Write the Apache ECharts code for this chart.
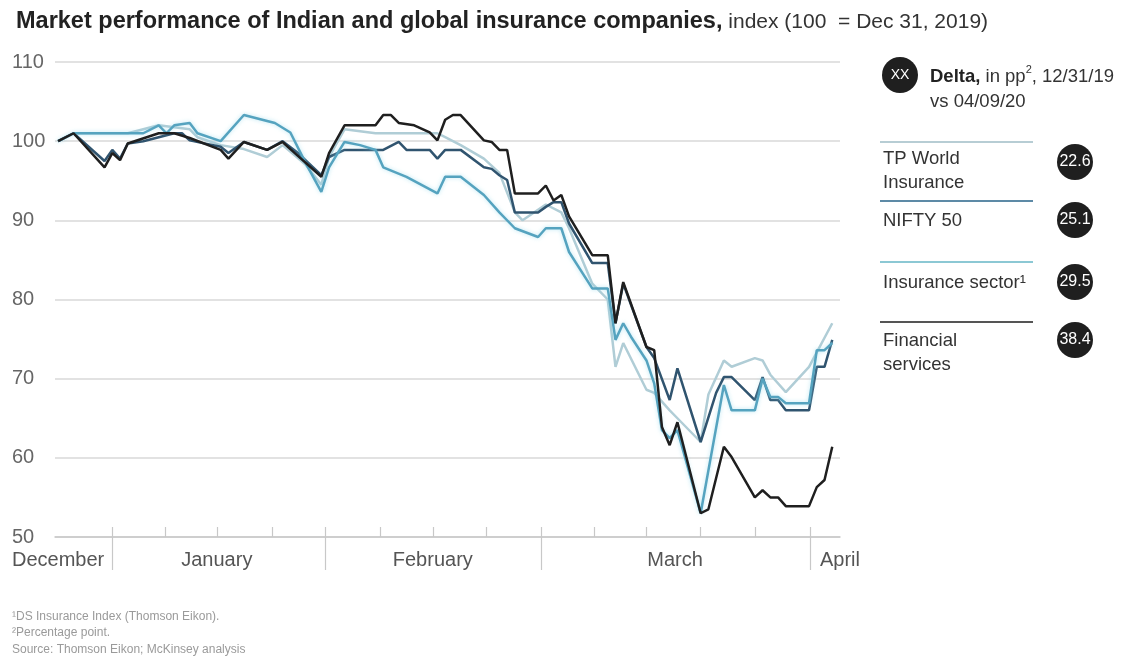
<!DOCTYPE html>
<html>
<head>
<meta charset="utf-8">
<script src="https://cdn.jsdelivr.net/npm/echarts@6/dist/echarts.min.js"></script>
<style>
html,body{margin:0;padding:0;background:#fff;}
#chart{width:1129px;height:661px;}
</style>
</head>
<body>
<div id="chart"></div>
<script>
// x = trading-day index (0 = start of series, late December 2019)
const monthNames = ['December', 'January', 'February', 'March', 'April'];
const monthLabelDays = [0, 20.5, 48.4, 79.7, 101];
const monthBoundaryDays = [7, 34.5, 62.4, 97.2];
const weekTickDays = [7, 13.8, 20.5, 27.6, 34.5, 41.6, 48.4, 55.3, 62.4, 69.2, 76, 82.9, 90.1, 97.2];
const yTicks = [50, 60, 70, 80, 90, 100, 110];

const seriesNames = ['TP World Insurance', 'NIFTY 50', 'Insurance sector', 'Financial services'];
const legendLabels = ['TP World\nInsurance', 'NIFTY 50', 'Insurance sector¹', 'Financial\nservices'];
const deltas = ['22.6', '25.1', '29.5', '38.4'];

const tpWorld = [[0,100],[2,101],[9,101],[13,102],[17,101.5],[18,100.5],[21,99.5],[24,99],[27,98],[29,99.5],[32,97],[34,94.5],[35,98],[37,101.5],[41,101],[49,101],[50,100.5],[52,99.5],[55,97.8],[57,96],[59,91],[60,90],[63,92],[65,91],[66,89],[69,82],[71,80],[72,71.5],[73,74.5],[76,68.6],[77,68.2],[79,66],[80,65],[83,62],[84,68],[86,72.3],[87,71.5],[90,72.6],[91,72.3],[92,70.5],[94,68.3],[97,71.5],[100,77]];

const nifty50 = [[0,100],[2,101],[6,97.5],[7,98.9],[8,97.8],[9,99.7],[11,100],[13,100.5],[15,101],[16,101],[17,100.1],[21,99.3],[22,98.5],[24,99.9],[27,98.9],[29,100],[31,98.5],[34,95.7],[35,98],[37,98.9],[42,98.9],[44,99.9],[45,98.9],[48,98.9],[49,97.8],[50,98.9],[52,98.9],[55,96.7],[56,96.5],[57,95.7],[58,95.1],[59,91],[62,91],[63,91.7],[64,92.3],[65,92.3],[66,89.6],[69,84.6],[71,84.6],[72,77],[73,82],[76,74],[77,72.6],[79,67.3],[80,71.3],[83,62],[85,68.2],[86,70.2],[87,70.2],[90,67.3],[91,70.2],[92,67.3],[93,67.3],[94,66],[97,66],[98,71.5],[99,71.5],[100,74.9]];

const insurance = [[0,100],[2,101],[11,101],[13,102],[14,101],[15,102],[17,102.3],[18,101],[21,100],[24,103.3],[28,102.3],[30,101.1],[32,97.2],[34,93.6],[35,96.7],[37,99.9],[39,99.5],[41,98.9],[42,96.7],[45,95.5],[49,93.4],[50,95.5],[52,95.5],[55,93.2],[57,91],[59,89],[62,87.9],[63,89],[65,89],[66,86],[69,81.4],[71,81.4],[72,74.9],[73,77],[74,75.3],[76,72.3],[77,69.4],[78,63.5],[79,62.5],[80,63.5],[83,53],[86,69.2],[87,66],[90,66],[91,70],[92,67.7],[93,67.7],[94,66.9],[97,66.9],[98,73.6],[99,73.6],[100,74.5]];

const financial = [[0,100],[2,101],[6,96.7],[7,98.5],[8,97.6],[9,99.7],[13,101],[15,101],[17,100.4],[21,98.9],[22,97.8],[24,99.9],[27,98.9],[29,99.9],[30,99],[34,95.5],[35,98.5],[37,102],[41,102],[42,103.3],[43,103.3],[44,102.3],[46,102],[48,101.1],[49,100.1],[50,102.7],[51,103.3],[52,103.3],[55,100.1],[56,99.9],[57,98.9],[58,98.9],[59,93.4],[62,93.4],[63,94.4],[64,92.5],[65,93.2],[66,90.5],[69,85.6],[71,85.6],[72,77],[73,82.2],[76,74],[77,73.6],[78,63.9],[79,61.6],[80,64.5],[83,53],[84,53.5],[86,61.4],[87,60.1],[90,55],[91,55.9],[92,55],[93,55],[94,53.9],[97,53.9],[98,56.3],[99,57.2],[100,61.4]];

const seriesData = [tpWorld, nifty50, insurance, financial];
const colors = ['#b0cdd6', '#30546f', '#55a3bf', '#1f1f1f'];
const legendLineColors = ['#b7cdd4', '#5d8aa6', '#8cc8d4', '#555555'];

const FONT = '"Liberation Sans", Arial, sans-serif';
const chart = echarts.init(document.getElementById('chart'));

const graphics = [];
// Delta header
graphics.push({type:'circle', shape:{cx:900, cy:75, r:18}, style:{fill:'#1f1f1f'}});
graphics.push({type:'text', x:900, y:75, style:{text:'XX', fill:'#fff', font:'14px ' + FONT, align:'center', verticalAlign:'middle'}});
graphics.push({type:'text', x:930, y:64, style:{
  text:'{b|Delta,} in pp{s|2}, 12/31/19\nvs 04/09/20', fill:'#333', font:'18.5px ' + FONT, lineHeight:25, verticalAlign:'top',
  rich:{b:{font:'bold 18.5px ' + FONT, fill:'#222'}, s:{font:'11px ' + FONT, verticalAlign:'top', padding:[0,0,9,0]}}
}});
const legendLineY = [142, 201, 262, 322];
const legendTextY = [147, 209, 271, 329];
const badgeY = [162, 220, 282, 340];
for (let k = 0; k < 4; k++) {
  graphics.push({type:'line', shape:{x1:880, y1:legendLineY[k], x2:1033, y2:legendLineY[k]}, style:{stroke:legendLineColors[k], lineWidth:2}});
  graphics.push({type:'text', x:883, y:legendTextY[k], style:{text:legendLabels[k], fill:'#333', font:'18.5px ' + FONT, lineHeight:24, verticalAlign:'top'}});
  graphics.push({type:'circle', shape:{cx:1075, cy:badgeY[k], r:18}, style:{fill:'#1f1f1f'}});
  graphics.push({type:'text', x:1075, y:badgeY[k], style:{text:deltas[k], fill:'#fff', font:'16px ' + FONT, align:'center', verticalAlign:'middle'}});
}
// footnotes
graphics.push({type:'text', x:12, y:611, style:{text:'¹DS Insurance Index (Thomson Eikon).', fill:'#9a9a9a', font:'12px ' + FONT}});
graphics.push({type:'text', x:12, y:627, style:{text:'²Percentage point.', fill:'#9a9a9a', font:'12px ' + FONT}});
graphics.push({type:'text', x:12, y:644, style:{text:'Source: Thomson Eikon; McKinsey analysis', fill:'#9a9a9a', font:'12px ' + FONT}});

const option = {
  animation: false,
  backgroundColor: '#fff',
  textStyle: {fontFamily: FONT},
  title: {
    left: 11, top: 5,
    text: '{b|Market performance of Indian and global insurance companies,}{n| index (100  = Dec 31, 2019)}',
    textStyle: {
      rich: {
        b: {fontFamily: FONT, fontSize: 23.5, fontWeight: 'bold', color: '#222'},
        n: {fontFamily: FONT, fontSize: 21, fontWeight: 'normal', color: '#333'}
      }
    }
  },
  grid: {left: 55, right: 289, top: 62, bottom: 124},
  xAxis: [{
    type: 'value', min: -0.4, max: 101,
    axisLine: {show: true, lineStyle: {color: '#c8c8c8', width: 1.5}},
    splitLine: {show: false},
    axisTick: {show: true, customValues: monthBoundaryDays, length: 33, inside: false, lineStyle: {color: '#c8c8c8', width: 1.2}},
    axisLabel: {
      customValues: monthLabelDays, fontSize: 20, color: '#555', margin: 13, fontFamily: FONT,
      formatter: function (v) { const i = monthLabelDays.indexOf(v); return i >= 0 ? monthNames[i] : ''; }
    }
  }, {
    type: 'value', min: -0.4, max: 101, position: 'bottom',
    axisLine: {show: false},
    splitLine: {show: false},
    axisLabel: {show: false},
    axisTick: {show: true, customValues: weekTickDays, length: 10, inside: true, lineStyle: {color: '#c8c8c8', width: 1.2}}
  }],
  yAxis: {
    type: 'value', min: 50, max: 110, interval: 10,
    axisLine: {show: false}, axisTick: {show: false},
    axisLabel: {align: 'left', margin: 43, fontSize: 20, color: '#666', fontFamily: FONT,
      formatter: function (v) { return yTicks.indexOf(v) >= 0 ? String(v) : ''; }},
    splitLine: {show: true, lineStyle: {color: '#e2e2e2', width: 2}}
  },
  series: seriesNames.map(function (name, k) {
    return {
      name: name, type: 'line', data: seriesData[k], symbol: 'none', z: 2 + k,
      lineStyle: {color: colors[k], width: 2.5,
        shadowColor: k === 2 ? 'rgba(140,215,235,0.6)' : 'rgba(0,0,0,0)', shadowBlur: k === 2 ? 4 : 0},
      itemStyle: {color: colors[k]}
    };
  }),
  graphic: graphics
};
chart.setOption(option);
</script>
</body>
</html>
